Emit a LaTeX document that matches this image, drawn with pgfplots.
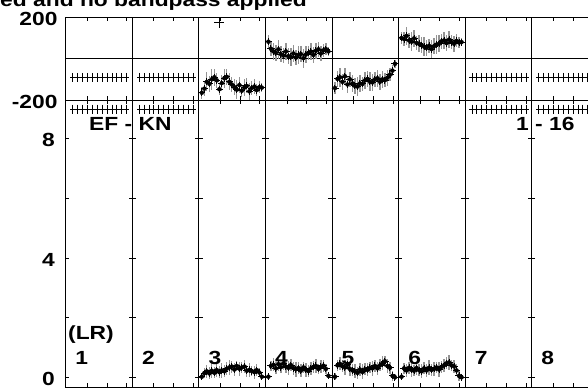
\documentclass[border=0pt]{standalone}
\usepackage{fontspec}
\setmainfont{Liberation Sans}[FakeStretch=1.2]
\usepackage{pgfplots}
\usepackage{pgfplotstable}
\pgfplotsset{compat=1.18}

% x = position inside a panel (bp), ph = phase (deg), pe = phase error, amp = amplitude, ae = amp error
\pgfplotstableread{
x ph pe amp ae
3 -165 30 0.02 0.12
5.5 -145 35 0.14 0.18
8 -112 45 0.20 0.22
10.5 -122 38 0.13 0.20
13 -100 50 0.22 0.25
15.5 -90 42 0.15 0.18
18 -105 35 0.24 0.22
20.5 -148 30 0.17 0.20
23 -118 40 0.23 0.24
25.5 -95 46 0.20 0.20
28 -88 38 0.29 0.22
30.5 -112 42 0.33 0.25
33 -125 35 0.36 0.20
35.5 -138 40 0.26 0.22
38 -150 45 0.38 0.18
40.5 -128 38 0.29 0.24
43 -155 30 0.33 0.20
45.5 -140 42 0.36 0.22
48 -132 36 0.22 0.20
50.5 -158 40 0.25 0.24
53 -142 35 0.21 0.18
55.5 -135 38 0.17 0.22
58 -152 30 0.24 0.20
60.5 -138 28 0.16 0.16
63 -140 20 0.02 0.10
}\tblC
\pgfplotstableread{
x ph pe amp ae
3 82 30 0.02 0.12
5.5 48 35 0.38 0.18
8 35 42 0.42 0.22
10.5 28 38 0.30 0.20
13 45 45 0.44 0.24
15.5 22 40 0.34 0.18
18 15 35 0.46 0.22
20.5 35 42 0.36 0.20
23 12 38 0.32 0.24
25.5 8 45 0.41 0.20
28 25 40 0.31 0.22
30.5 5 35 0.27 0.25
33 18 42 0.31 0.20
35.5 22 38 0.22 0.22
38 2 45 0.33 0.18
40.5 20 40 0.25 0.24
43 28 35 0.21 0.20
45.5 34 42 0.30 0.22
48 18 38 0.35 0.20
50.5 38 40 0.38 0.24
53 45 35 0.28 0.18
55.5 25 38 0.35 0.22
58 40 32 0.39 0.20
60.5 46 28 0.28 0.16
63 35 20 0.05 0.10
}\tblD
\pgfplotstableread{
x ph pe amp ae
3 -142 30 0.02 0.12
5.5 -98 40 0.40 0.18
8 -90 45 0.45 0.22
10.5 -112 38 0.37 0.20
13 -85 42 0.33 0.24
15.5 -125 40 0.42 0.18
18 -100 35 0.28 0.22
20.5 -120 42 0.23 0.20
23 -132 38 0.20 0.24
25.5 -135 45 0.15 0.20
28 -120 40 0.26 0.22
30.5 -122 35 0.18 0.25
33 -105 42 0.27 0.20
35.5 -98 38 0.25 0.22
38 -112 45 0.32 0.18
40.5 -115 40 0.30 0.24
43 -100 35 0.38 0.20
45.5 -95 42 0.30 0.22
48 -112 38 0.40 0.20
50.5 -100 40 0.47 0.24
53 -104 35 0.54 0.18
55.5 -92 38 0.38 0.22
58 -78 32 0.32 0.20
60.5 -58 28 0.05 0.16
63 -25 20 0.00 0.10
}\tblE
\pgfplotstableread{
x ph pe amp ae
3 100 30 0.02 0.12
5.5 95 35 0.30 0.18
8 110 42 0.23 0.22
10.5 88 38 0.32 0.20
13 82 45 0.25 0.24
15.5 98 40 0.22 0.18
18 76 35 0.31 0.22
20.5 72 42 0.24 0.20
23 65 38 0.20 0.24
25.5 58 45 0.30 0.20
28 52 40 0.23 0.22
30.5 62 35 0.32 0.25
33 46 42 0.25 0.20
35.5 60 38 0.28 0.22
38 68 45 0.33 0.18
40.5 72 40 0.26 0.24
43 84 35 0.35 0.20
45.5 88 42 0.40 0.22
48 75 38 0.47 0.20
50.5 92 40 0.50 0.24
53 80 35 0.40 0.18
55.5 72 38 0.37 0.22
58 86 32 0.23 0.20
60.5 78 28 0.05 0.16
63 80 20 0.00 0.10
}\tblF
% flat (constant) channels of panels 1, 2, 7, 8
\pgfplotstableread{
x ph amp
6.8 -90 9.0
11.73 -90 9.0
16.66 -90 9.0
21.59 -90 9.0
26.52 -90 9.0
31.45 -90 9.0
36.38 -90 9.0
41.31 -90 9.0
46.24 -90 9.0
51.17 -90 9.0
56.1 -90 9.0
61.03 -90 9.0
}\tblFlat

\newcommand{\bigfont}{\fontsize{19bp}{22bp}\selectfont\bfseries}

\pgfplotsset{
  panelbase/.style={scale only axis, width=66.57bp, xmin=0, xmax=66.57,
    xtick={21.6,41.3,61.0}, xticklabels={}, tick align=inside,
    major tick length=3.7bp, axis line style={line width=0.8bp, black},
    every tick/.style={black, line width=0.8bp}, anchor=south west,
    /pgf/number format/assume math mode=true,
    ticklabel style={font=\bigfont},
    yticklabel style={anchor=east, inner sep=0pt, yshift=-1.5bp},
    error bars/error mark=none},
  phase/.style={panelbase, height=82.7bp, ymin=-200, ymax=200,
    ytick={-200,0,200}, yticklabels={}, ymajorgrids,
    major grid style={black, line width=0.7bp}},
  amp/.style={panelbase, height=287bp, ymin=-0.3255, ymax=9.305,
    ytick={0,2,4,6,8}, yticklabels={}},
}

\newcommand{\flatpts}[1]{%
  \addplot[only marks, mark=|, mark size=4.5bp, mark options={black, line width=0.8bp},
    error bars/.cd, x dir=both, x fixed=2.47, error bar style={black, line width=0.8bp}]
    table[x=x, y=#1] {\tblFlat};}
\newcommand{\noisy}[3]{%
  \addplot[only marks, mark=none, error bars/.cd, y dir=both, y explicit,
    error bar style={black!42, line width=1.3bp}]
    table[x=x, y=#2, y error=#3] {#1};
  \addplot[only marks, mark=|, mark size=3.5bp, mark options={black, line width=1bp},
    error bars/.cd, x dir=both, x fixed=3.6, error bar style={black, line width=1bp}]
    table[x=x, y=#2] {#1};}

\newcommand{\panel}[5]{%
  \begin{axis}[phase, at={(#1,289bp)}, #2] #4 \end{axis}
  \begin{axis}[amp, at={(#1,2bp)}, #3] #5 \end{axis}}

\begin{document}
\begin{tikzpicture}
\panel{65.7bp}{yticklabels={-200,,200}, yticklabel style={xshift=-8bp}}{yticklabels={0,,4,,8}, yticklabel style={xshift=-10.7bp}}{\flatpts{ph}}{\flatpts{amp}}
\panel{132.27bp}{}{}{\flatpts{ph}}{\flatpts{amp}}
\panel{198.84bp}{}{}{\noisy{\tblC}{ph}{pe}
  \addplot[only marks, mark=|, mark size=5.5bp, mark options={black, line width=0.8bp},
    error bars/.cd, x dir=both, x fixed=5, error bar style={black, line width=0.8bp}]
    coordinates {(20.5,174)};}{\noisy{\tblC}{amp}{ae}}
\panel{265.41bp}{}{}{\noisy{\tblD}{ph}{pe}}{\noisy{\tblD}{amp}{ae}}
\panel{331.98bp}{}{}{\noisy{\tblE}{ph}{pe}}{\noisy{\tblE}{amp}{ae}}
\panel{398.55bp}{}{}{\noisy{\tblF}{ph}{pe}}{\noisy{\tblF}{amp}{ae}}
\panel{465.12bp}{}{}{\flatpts{ph}}{\flatpts{amp}}
\panel{531.69bp}{}{}{\flatpts{ph}}{\flatpts{amp}}

\node[anchor=base east, inner sep=0pt, font=\bigfont] at (307bp,382bp) {ed and no bandpass applied};
\node[anchor=base west, inner sep=0pt, font=\bigfont] at (89bp,258.5bp) {EF - KN};
\node[anchor=base west, inner sep=0pt, font=\bigfont] at (516bp,258.5bp) {1 - 16};
\node[anchor=base west, inner sep=0pt, font=\bigfont] at (68bp,49.5bp) {(LR)};
\node[anchor=base west, inner sep=0pt, font=\bigfont] at (75.2bp,25bp) {1};
\node[anchor=base west, inner sep=0pt, font=\bigfont] at (141.8bp,25bp) {2};
\node[anchor=base west, inner sep=0pt, font=\bigfont] at (208.3bp,25bp) {3};
\node[anchor=base west, inner sep=0pt, font=\bigfont] at (274.9bp,25bp) {4};
\node[anchor=base west, inner sep=0pt, font=\bigfont] at (341.5bp,25bp) {5};
\node[anchor=base west, inner sep=0pt, font=\bigfont] at (408.1bp,25bp) {6};
\node[anchor=base west, inner sep=0pt, font=\bigfont] at (474.6bp,25bp) {7};
\node[anchor=base west, inner sep=0pt, font=\bigfont] at (541.2bp,25bp) {8};
\pgfresetboundingbox
\useasboundingbox (0,0) rectangle (588bp,389bp);
\end{tikzpicture}
\end{document}
